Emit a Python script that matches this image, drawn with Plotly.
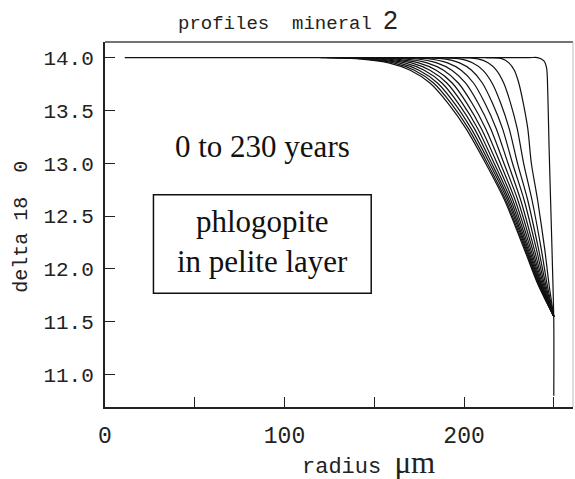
import plotly.graph_objects as go

# delta 18O levels at which each profile's radius was tabulated (same for every profile)
DELTA_LEVELS = [14.0, 13.99, 13.95, 13.88, 13.76, 13.57, 13.33, 13.0, 12.65, 12.18, 11.86, 11.55]

# radius (um) of each diffusion profile at the levels above, youngest first
PROFILE_RADII = [
    [212.0, 221.0, 225.0, 228.0, 230.5, 233.0, 235.5, 237.5, 241.0, 245.0, 247.3, 250.0],
    [196.4, 207.2, 213.6, 218.1, 222.1, 225.9, 229.6, 233.2, 237.9, 243.1, 246.2, 250.0],
    [184.4, 196.7, 204.9, 210.6, 215.6, 220.4, 225.1, 229.8, 235.5, 241.6, 245.4, 250.0],
    [174.3, 187.8, 197.5, 204.2, 210.2, 215.8, 221.4, 227.0, 233.5, 240.4, 244.7, 250.0],
    [165.1, 179.7, 190.8, 198.4, 205.3, 211.6, 217.9, 224.5, 231.6, 239.2, 244.1, 250.0],
    [156.8, 172.4, 184.8, 193.2, 200.8, 207.8, 214.8, 222.2, 230.0, 238.2, 243.5, 250.0],
    [149.4, 165.9, 179.4, 188.6, 196.8, 204.4, 212.0, 220.2, 228.5, 237.3, 243.0, 250.0],
    [143.0, 160.2, 174.7, 184.5, 193.4, 201.5, 209.6, 218.4, 227.2, 236.5, 242.6, 250.0],
    [137.5, 155.4, 170.7, 181.0, 190.4, 199.0, 207.6, 216.8, 226.1, 235.8, 242.2, 250.0],
    [132.4, 150.9, 167.0, 177.8, 187.7, 196.7, 205.7, 215.4, 225.1, 235.2, 241.9, 250.0],
    [127.8, 146.9, 163.7, 174.9, 185.2, 194.6, 203.9, 214.2, 224.2, 234.7, 241.5, 250.0],
    [123.7, 143.2, 160.7, 172.3, 183.0, 192.7, 202.4, 213.0, 223.3, 234.2, 241.3, 250.0],
    [120.0, 140.0, 158.0, 170.0, 181.0, 191.0, 201.0, 212.0, 222.6, 233.7, 241.0, 250.0],
]

# initial profile (t = 0): flat core from the inner radius, with a sharp rim step
STEP_R = [11.0, 236.0, 241.0, 244.5, 246.0, 246.6, 247.3, 248.3, 249.3, 250.0, 250.0]
STEP_D = [14.0, 14.0, 14.0, 13.97, 13.9, 13.7, 13.2, 12.6, 12.0, 11.5, 10.8]

Y_TICKS = [11.0, 11.5, 12.0, 12.5, 13.0, 13.5, 14.0]
X_TICKS = [0, 50, 100, 150, 200, 250]
X_TICK_TEXT = ["0", "", "100", "", "200", ""]

W, H = 575, 479
ML, MR, MT, MB = 105, 1.5, 42, 71.5
PW, PH = W - ML - MR, H - MT - MB


def px(x):
    return (x - ML) / PW


def py(y):
    return 1 - (y - MT) / PH


fig = go.Figure()

line_style = dict(color="#111111", width=1.2, shape="spline", smoothing=0.8)

fig.add_trace(go.Scatter(x=STEP_R, y=STEP_D, mode="lines", line=line_style,
                         hoverinfo="skip", showlegend=False))

for radii in PROFILE_RADII:
    fig.add_trace(go.Scatter(x=radii, y=DELTA_LEVELS, mode="lines", line=line_style,
                             hoverinfo="skip", showlegend=False))

mono = "Liberation Mono"
serif = "Liberation Serif"

fig.update_layout(
    width=W, height=H,
    margin=dict(l=ML, r=MR, t=MT, b=MB, pad=0),
    paper_bgcolor="white", plot_bgcolor="white",
    xaxis=dict(range=[0, 260.7], tickvals=X_TICKS, ticktext=X_TICK_TEXT,
               ticks="inside", ticklen=10, tickwidth=1.3, tickcolor="#222",
               showline=True, linecolor="#222", linewidth=2, showgrid=False,
               zeroline=False, ticklabelstandoff=6,
               tickfont=dict(family=mono, size=23, color="#222")),
    yaxis=dict(range=[10.693, 14.148], tickvals=Y_TICKS,
               ticktext=[f"{v:.1f}" for v in Y_TICKS],
               ticks="inside", ticklen=10, tickwidth=1.3, tickcolor="#222",
               showline=True, linecolor="#222", linewidth=2, showgrid=False,
               zeroline=False, ticklabelstandoff=5,
               tickfont=dict(family=mono, size=21, color="#222")),
    shapes=[
        # top and right frame edges
        dict(type="line", xref="paper", yref="paper", x0=0, x1=1, y0=1, y1=1,
             line=dict(color="#444", width=1.5)),
        dict(type="line", xref="paper", yref="paper", x0=1, x1=1, y0=0, y1=1,
             line=dict(color="#bbbbbb", width=1)),
        # label box
        dict(type="rect", xref="paper", yref="paper",
             x0=px(153.5), x1=px(371.5), y0=py(293.5), y1=py(195),
             line=dict(color="#111", width=1.5), fillcolor="rgba(0,0,0,0)"),
    ],
    annotations=[
        dict(text="profiles  mineral <span style='font-family:Liberation Sans;font-size:26px'>2</span>",
             xref="paper", yref="paper", x=px(288), y=py(20), showarrow=False,
             font=dict(family=mono, size=19, color="#222"), xanchor="center", yanchor="middle"),
        dict(text="radius <span style='font-family:Liberation Serif;font-size:31px'>μm</span>",
             xref="paper", yref="paper", x=px(369), y=py(463), showarrow=False,
             font=dict(family=mono, size=22, color="#222"), xanchor="center", yanchor="middle"),
        dict(text="delta 18  0", textangle=-90,
             xref="paper", yref="paper", x=px(22), y=py(227), showarrow=False,
             font=dict(family=mono, size=20, color="#222"), xanchor="center", yanchor="middle"),
        dict(text="0 to 230 years", xref="paper", yref="paper", x=px(263), y=py(147),
             showarrow=False, font=dict(family=serif, size=31, color="#111"),
             xanchor="center", yanchor="middle"),
        dict(text="phlogopite<br>in pelite layer", xref="paper", yref="paper",
             x=px(262.5), y=py(242), showarrow=False,
             font=dict(family=serif, size=31, color="#111"),
             xanchor="center", yanchor="middle"),
    ],
)

fig.write_html("out.html")
